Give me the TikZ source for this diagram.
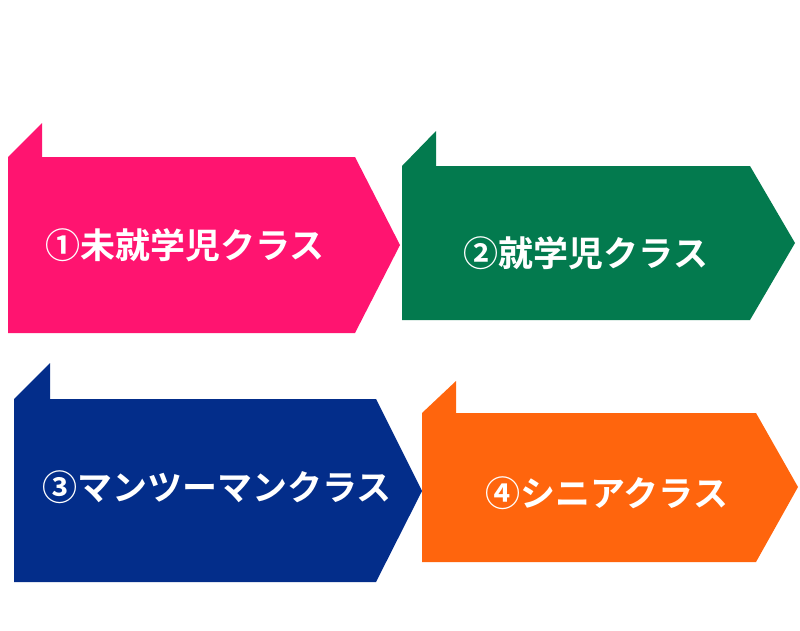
\documentclass[tikz,border=0pt]{standalone}
\usepackage{fontspec}
\newfontfamily\cjk{Noto Sans CJK JP}[BoldFont={Noto Sans CJK JP Bold}]
\definecolor{cpink}{RGB}{255,20,112}
\definecolor{cgreen}{RGB}{3,122,78}
\definecolor{cblue}{RGB}{3,45,138}
\definecolor{corange}{RGB}{255,101,13}
\tikzset{
  banner/.style={fill=#1, draw=none},
  label/.style={text=white, font=\cjk\bfseries\fontsize{35}{40}\selectfont, inner sep=0pt, anchor=center}
}
\begin{document}
\begin{tikzpicture}[x=1pt,y=-1pt]
\useasboundingbox (0,0) rectangle (800,630);
\fill[white] (0,0) rectangle (800,630);
% shape 1
\fill[banner=cpink] (8,157) -- (42,123) -- (42,157) -- cycle;
\fill[banner=cpink] (8,157) -- (355,157) -- (400,245) -- (355,333) -- (8,333) -- cycle;
% shape 2
\fill[banner=cgreen] (402,166) -- (436,131) -- (436,166) -- cycle;
\fill[banner=cgreen] (402,166) -- (750,166) -- (795,243) -- (750,320) -- (402,320) -- cycle;
% shape 3
\fill[banner=cblue] (14,399) -- (50,363) -- (50,399) -- cycle;
\fill[banner=cblue] (14,399) -- (376,399) -- (422,491) -- (376,582) -- (14,582) -- cycle;
% shape 4
\fill[banner=corange] (422,413) -- (456,381) -- (456,413) -- cycle;
\fill[banner=corange] (422,413) -- (756,413) -- (798,487) -- (756,562) -- (422,562) -- cycle;
% labels
\node[label] (t1) at (185,245) {①未就学児クラス};
\node[label] (t2) at (586,253) {②就学児クラス};
\node[label] (t3) at (217,487) {③マンツーマンクラス};
\node[label] (t4) at (607,493) {④シニアクラス};
\end{tikzpicture}
\end{document}
